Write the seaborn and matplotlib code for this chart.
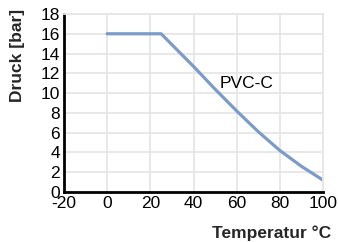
import matplotlib
matplotlib.use("Agg")
import matplotlib.pyplot as plt
import seaborn as sns
import pandas as pd

temperature = [0, 25, 30, 40, 50, 60, 70, 80, 90, 100]
pressure = [16, 16, 14.9, 12.7, 10.4, 8.2, 6.1, 4.2, 2.6, 1.2]
x_ticks = [-20, 0, 20, 40, 60, 80, 100]
y_ticks = [0, 2, 4, 6, 8, 10, 12, 14, 16, 18]
series_label = "PVC-C"
x_label = "Temperatur °C"
y_label = "Druck [bar]"

sns.set_theme(style="white")
plt.rcParams['font.family'] = ['Liberation Sans', 'DejaVu Sans']

df = pd.DataFrame({"T": temperature, "P": pressure})

fig = plt.figure(figsize=(3.38, 2.42), dpi=100)
ax = fig.add_axes([64/338, 1-192/242, (323-64)/338, (192-14)/242])

sns.lineplot(data=df, x="T", y="P", ax=ax, color="#7b9cc9", linewidth=2.3)

ax.set_xlim(-20, 100)
ax.set_ylim(0, 18)
ax.set_xticks(x_ticks)
ax.set_yticks(y_ticks)
ax.set_xticklabels([str(v) for v in x_ticks], fontsize=12.5)
ax.set_yticklabels([str(v) for v in y_ticks], fontsize=12.5)
ax.grid(True, color="#e6e6e6", linewidth=1.3)
ax.set_axisbelow(True)

for s in ["top", "right"]:
    ax.spines[s].set_color("#e6e6e6")
    ax.spines[s].set_linewidth(1.3)
for s in ["left", "bottom"]:
    ax.spines[s].set_color("black")
    ax.spines[s].set_linewidth(2)

ax.tick_params(axis="both", direction="in", length=4, width=1.5, color="black",
               labelcolor="black", pad=3)

ax.set_xlabel("")
ax.set_ylabel("")
fig.text(331/338, 1-233/242, x_label, ha="right", va="center", fontsize=12.5, fontweight="bold")
fig.text(18/338, 1-55/242, y_label, ha="center", va="center", rotation=90, fontsize=12.5, fontweight="bold")

ax.text(64.5, 11.0, series_label, ha="center", va="center", fontsize=12.5, color="black")

fig.savefig("out.png", dpi=100)
